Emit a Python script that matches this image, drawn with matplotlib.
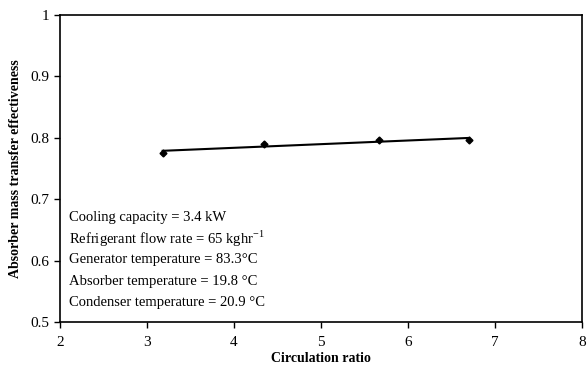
import numpy as np
import matplotlib.pyplot as plt

plt.rcParams['font.family'] = ['Liberation Serif', 'DejaVu Serif']
plt.rcParams['mathtext.fontset'] = 'custom'
plt.rcParams['mathtext.rm'] = 'Liberation Serif'

ratio = [3.18, 4.35, 5.67, 6.70]
effectiveness = [0.775, 0.790, 0.797, 0.796]
notes = ["Cooling capacity = 3.4 kW",
         "Refrigerant flow rate = 65 kghr$^{\\mathrm{-1}}$",
         "Generator temperature = 83.3°C",
         "Absorber temperature = 19.8 °C",
         "Condenser temperature = 20.9 °C"]

fig = plt.figure(figsize=(5.88, 3.66), dpi=100)
ax = fig.add_axes([60 / 588, 1 - 322 / 366, 522 / 588, 307 / 366])

# linear trend line over the data range
k, b = np.polyfit(ratio, effectiveness, 1)
xs = np.array([ratio[0], ratio[-1]])
ax.plot(xs, k * xs + b, color='black', lw=1.5)
ax.plot(ratio, effectiveness, 'D', color='black', ms=3.5)

ax.set_xlim(2, 8)
ax.set_ylim(0.5, 1)
ax.set_xticks(range(2, 9))
ax.set_yticks([0.5, 0.6, 0.7, 0.8, 0.9, 1.0])
ax.set_yticklabels(['0.5', '0.6', '0.7', '0.8', '0.9', '1'])
ax.tick_params(direction='out', length=4, width=1, labelsize=11)
ax.tick_params(axis='x', pad=6)
for s in ax.spines.values():
    s.set_linewidth(1.2)

ax.set_xlabel('Circulation ratio', fontsize=10, fontweight='bold', labelpad=2)
ax.set_ylabel('Absorber mass transfer effectiveness', fontsize=10, fontweight='bold', labelpad=6)

for i, t in enumerate(notes):
    ax.text(2.1, 0.670 - i * 0.0345, t, fontsize=10.5, va='center')

fig.savefig('out.png', dpi=100)
